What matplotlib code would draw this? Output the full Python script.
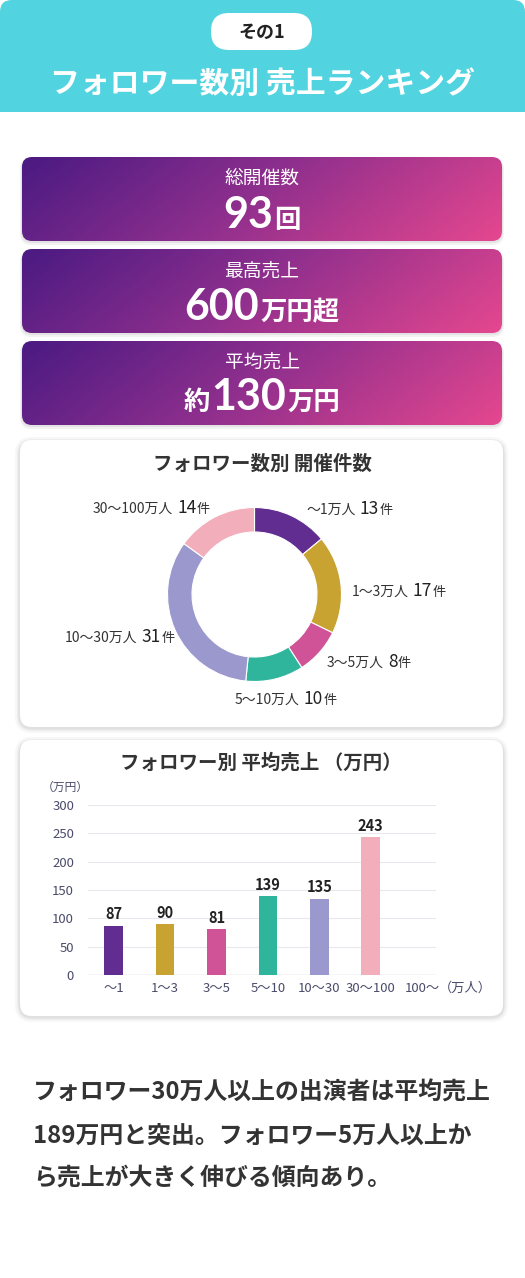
import numpy as np
import matplotlib
matplotlib.use("Agg")
import matplotlib.pyplot as plt
from matplotlib.patches import FancyBboxPatch, Rectangle
from matplotlib.colors import LinearSegmentedColormap

plt.rcParams['font.family'] = ['Noto Sans CJK JP', 'DejaVu Sans']

W, H = 525, 1278

# ---- data ----
header_tag = "その1"
header_title = "フォロワー数別 売上ランキング"

stat_labels = ["総開催数", "最高売上", "平均売上"]
stat_prefix = ["", "", "約"]
stat_numbers = ["93", "600", "130"]
stat_suffix = ["回", "万円超", "万円"]

donut_title = "フォロワー数別 開催件数"
follower_ranges = ["～1万人", "1～3万人", "3～5万人", "5～10万人", "10～30万人", "30～100万人"]
event_counts = [13, 17, 8, 10, 31, 14]
range_colors = ["#622D91", "#C9A331", "#CF5396", "#2FB59C", "#9A98CC", "#F2AEBB"]

bar_title = "フォロワー別 平均売上 （万円）"
bar_categories = ["～1", "1～3", "3～5", "5～10", "10～30", "30～100", "100～"]
avg_sales = [87, 90, 81, 139, 135, 243, None]
y_ticks = [0, 50, 100, 150, 200, 250, 300]

summary_lines = [
    "フォロワー30万人以上の出演者は平均売上",
    "189万円と突出。フォロワー5万人以上か",
    "ら売上が大きく伸びる傾向あり。",
]


def Y(p):
    # pixel row (top-down) -> data y (bottom-up)
    return H - p


def rbox(ax, x0, y0, x1, y1, r, **kw):
    p = FancyBboxPatch((x0 + r, Y(y1) + r), (x1 - x0) - 2 * r, (y1 - y0) - 2 * r,
                       boxstyle=f"round,pad={r}", **kw)
    ax.add_patch(p)
    return p


def draw_pieces(ax, x, y, pieces, ha="center"):
    renderer = ax.figure.canvas.get_renderer()
    texts, widths = [], []
    for s, size, weight, color, gap, fam in pieces:
        t = ax.text(0, Y(y), s, fontsize=size, fontweight=weight, color=color,
                    va="baseline", ha="left", zorder=5, family=fam)
        widths.append(t.get_window_extent(renderer).width + gap)
        texts.append(t)
    total = sum(widths) - pieces[-1][4]
    start = x - total / 2 if ha == "center" else x
    for t, w in zip(texts, widths):
        t.set_x(start)
        start += w


JP = ['Noto Sans CJK JP', 'DejaVu Sans']
NUM = ['Lato', 'DejaVu Sans']

fig = plt.figure(figsize=(W / 100, H / 100), dpi=100)
fig.patch.set_facecolor("white")
ax = fig.add_axes([0, 0, 1, 1])
ax.set_xlim(0, W)
ax.set_ylim(0, H)
ax.axis("off")

# ---- header ----
rbox(ax, 0, 0, W, 112, 12, facecolor="#52D3E0", edgecolor="none", zorder=1)
ax.add_patch(Rectangle((0, Y(112)), W, 60, facecolor="#52D3E0", edgecolor="none", zorder=1))
rbox(ax, 211, 13, 312, 50, 18, facecolor="white", edgecolor="none", zorder=2)
ax.text(262, Y(32), header_tag, fontsize=13, fontweight="bold", color="#222222",
        ha="center", va="center", zorder=5)
ax.text(262.5, Y(84), header_title, fontsize=21.5, fontweight="bold", color="white",
        ha="center", va="center", zorder=5)

# ---- stat cards ----
grad_cmap = LinearSegmentedColormap.from_list(
    "card", [(0, "#4A1A82"), (0.45, "#8B2E8D"), (1, "#E5478F")])
gu, gv = np.meshgrid(np.linspace(0, 1, 400), np.linspace(0, 1, 60))
grad = grad_cmap(np.clip(0.82 * gu + 0.18 * gv, 0, 1))

card_rows = [(157, 241), (249, 333), (341, 425)]
label_y = [178, 271, 362]
value_base = [228, 320, 410]
for i, (y0, y1) in enumerate(card_rows):
    for k, a in zip([4, 2], [0.05, 0.06]):
        rbox(ax, 22 - k / 2, y0 + 1, 502 + k / 2, y1 + k, 11, facecolor="black",
             edgecolor="none", alpha=a, zorder=1)
    clip = rbox(ax, 22, y0, 502, y1, 10, facecolor="none", edgecolor="none", zorder=2)
    im = ax.imshow(grad, extent=(22, 502, Y(y1), Y(y0)), origin="upper",
                   aspect="auto", zorder=2)
    im.set_clip_path(clip)
    ax.text(262, Y(label_y[i]), stat_labels[i], fontsize=13.5, color="white",
            ha="center", va="center", zorder=5)
    pieces = []
    if stat_prefix[i]:
        pieces.append((stat_prefix[i], 19, "bold", "white", 1, JP))
    pieces.append((stat_numbers[i], 31, "bold", "white", 1, NUM))
    pieces.append((stat_suffix[i], 19, "bold", "white", 0, JP))
    draw_pieces(ax, 262, value_base[i], pieces)

# ---- white chart cards ----
for (y0, y1) in [(440, 727), (740, 1016)]:
    for k, a in zip([5, 3, 1.5], [0.03, 0.04, 0.05]):
        rbox(ax, 20 - k, y0 - k + 2, 503 + k, y1 + k + 1, 12 + k, facecolor="black",
             edgecolor="none", alpha=a, zorder=1)
    rbox(ax, 20, y0, 503, y1, 12, facecolor="white", edgecolor="none", zorder=1)

# ---- donut ----
ax.text(262.5, Y(464), donut_title, fontsize=14, fontweight="bold", color="#333333",
        ha="center", va="center", zorder=5)
ax.pie(event_counts, colors=range_colors, startangle=90, counterclock=False,
       radius=87, center=(254.5, Y(594.5)), frame=True,
       wedgeprops=dict(width=24.5, edgecolor="white", linewidth=0.8, zorder=3))

label_pos = [(306, 514), (352, 596), (327, 667), (235, 704), (65, 642), (93, 513)]
for name, cnt, (lx, ly) in zip(follower_ranges, event_counts, label_pos):
    draw_pieces(ax, lx, ly, [(name, 10, "normal", "#333333", 4, JP),
                             (str(cnt), 12.5, "normal", "#222222", 0.5, JP),
                             ("件", 9.5, "normal", "#333333", 0, JP)], ha="left")

# ---- bar chart ----
ax.text(261, Y(763), bar_title, fontsize=14, fontweight="bold", color="#333333",
        ha="center", va="center", zorder=5)
ax.text(65, Y(787), "（万円）", fontsize=8.5, color="#4B4B6B", ha="center", va="center", zorder=5)
ax.text(465, Y(988), "（万人）", fontsize=9.5, color="#4B4B6B", ha="center", va="center", zorder=5)

ax.set_xlim(0, W)
ax.set_ylim(0, H)
ax.axis("off")

bx = fig.add_axes([88 / W, (H - 975) / H, (436 - 88) / W, (975 - 805) / H])
bx.set_facecolor("none")
xs = np.arange(len(bar_categories))
for i, v in enumerate(avg_sales):
    if v is None:
        continue
    bx.bar(xs[i], v, width=0.36, color=range_colors[i], zorder=3)
    bx.annotate(str(v), (xs[i], v), xytext=(0, 2.5), textcoords="offset points",
                ha="center", va="bottom", fontsize=10.5, fontweight="bold", color="#222222")
bx.set_xlim(-0.5, 6.27)
bx.set_ylim(0, 300)
bx.set_yticks(y_ticks)
bx.set_xticks(xs)
bx.set_xticklabels(bar_categories)
bx.tick_params(axis="y", length=0, pad=10, labelsize=9.5, labelcolor="#4B4B6B")
bx.tick_params(axis="x", length=0, pad=5, labelsize=9.5, labelcolor="#4B4B6B")
for s in bx.spines.values():
    s.set_visible(False)
bx.yaxis.grid(True, color="#E8E8EE", linewidth=0.8, zorder=0)
bx.axhline(0, color="#D8D8E2", linewidth=1, zorder=2)
bx.set_axisbelow(True)

# ---- summary text ----
for line, ly in zip(summary_lines, [1093, 1136, 1178]):
    ax.text(33, Y(ly), line, fontsize=17.2, fontweight="bold", color="#333333",
            ha="left", va="center", zorder=5)

fig.savefig("out.png", dpi=100, facecolor="white")
